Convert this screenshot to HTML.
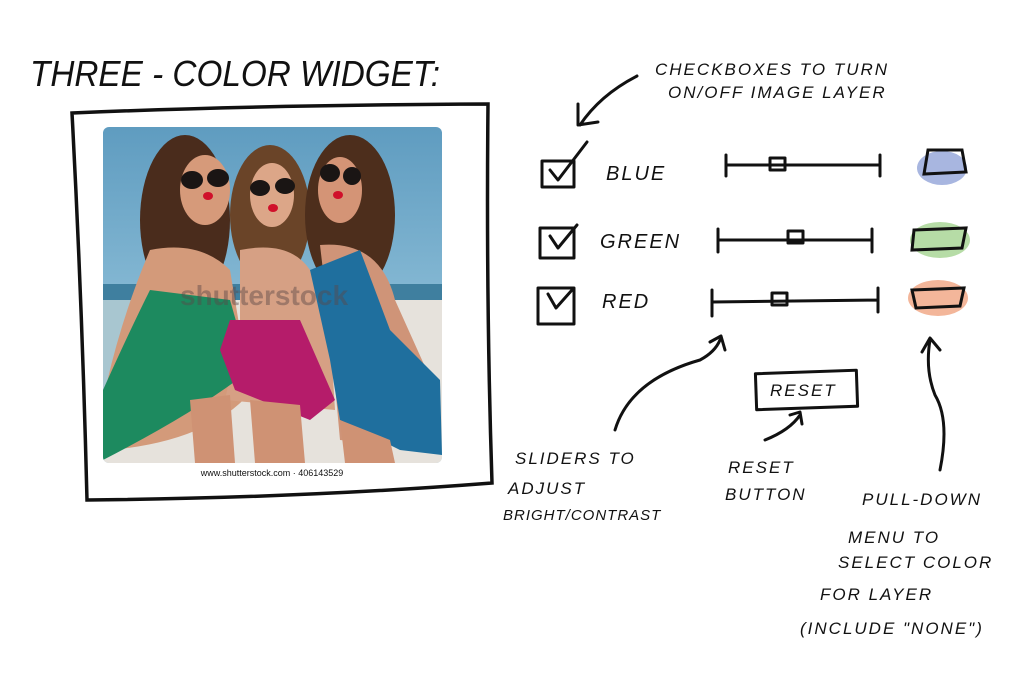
<!DOCTYPE html>
<html><head><meta charset="utf-8"><style>
html,body{margin:0;padding:0;background:#fff;}
svg{display:block;}
text{font-family:"Liberation Sans",sans-serif;fill:#111;}
.h{font-size:17px;letter-spacing:2px;font-style:italic;}
</style></head><body>
<svg width="1032" height="683" viewBox="0 0 1032 683">
<defs>
<linearGradient id="sky" x1="0" y1="0" x2="0" y2="1">
<stop offset="0" stop-color="#5f9cc0"/><stop offset="1" stop-color="#a9d3e6"/></linearGradient>
<clipPath id="ph"><rect x="103" y="127" width="339" height="336" rx="6"/></clipPath>
</defs>
<text x="30" y="86" textLength="410" lengthAdjust="spacingAndGlyphs" style="font-size:36px;font-style:italic">THREE - COLOR WIDGET:</text>
<!-- frame -->
<path d="M72 113 Q260 105 488 104 Q486 300 492 483 Q300 498 87 500 Q82 300 72 113 Z" fill="none" stroke="#111" stroke-width="3.5"/>
<!-- photo -->
<g clip-path="url(#ph)">
<rect x="103" y="127" width="339" height="336" fill="url(#sky)"/>
<rect x="103" y="284" width="339" height="16" fill="#3f7f9f"/>
<rect x="103" y="300" width="339" height="163" fill="#e6e2dc"/>
<rect x="103" y="300" width="60" height="120" fill="#a8c6d0"/>
<ellipse cx="185" cy="220" rx="45" ry="85" fill="#4a2c1c"/>
<ellipse cx="270" cy="215" rx="40" ry="70" fill="#6a4428"/>
<ellipse cx="350" cy="215" rx="45" ry="80" fill="#4d2e1c"/>
<ellipse cx="205" cy="190" rx="25" ry="35" fill="#d69a7a"/>
<ellipse cx="272" cy="195" rx="22" ry="32" fill="#dca688"/>
<ellipse cx="340" cy="190" rx="22" ry="33" fill="#d49476"/>
<g fill="#1a1514"><ellipse cx="192" cy="180" rx="11" ry="9"/><ellipse cx="218" cy="178" rx="11" ry="9"/>
<ellipse cx="260" cy="188" rx="10" ry="8"/><ellipse cx="285" cy="186" rx="10" ry="8"/>
<ellipse cx="330" cy="173" rx="10" ry="9"/><ellipse cx="352" cy="176" rx="9" ry="9"/></g>
<g fill="#d0102a"><ellipse cx="208" cy="196" rx="5" ry="4"/><ellipse cx="273" cy="208" rx="5" ry="4"/><ellipse cx="338" cy="195" rx="5" ry="4"/></g>
<path d="M150 250 Q200 240 230 270 L240 330 L260 380 Q220 440 110 450 L103 400 Q120 320 150 250Z" fill="#d39a7a"/>
<path d="M240 250 Q290 240 310 270 L330 330 L335 410 L225 400 L240 330Z" fill="#d6a084"/>
<path d="M320 245 Q380 240 395 300 L440 400 L440 450 L340 440 L330 330Z" fill="#cf9478"/>
<path d="M150 290 L230 300 L250 370 Q200 410 103 460 L103 390 Q130 330 150 290Z" fill="#1d8a5f"/>
<path d="M230 320 L300 320 L335 400 L310 420 L235 390 L220 350Z" fill="#b51c6a"/>
<path d="M310 270 L360 250 L390 330 L440 380 L442 455 L400 450 L340 420 L330 360Z" fill="#1f6f9e"/>
<path d="M190 400 L230 395 L235 463 L195 463Z M250 400 L300 405 L305 463 L255 463Z M340 420 L390 440 L395 463 L345 463Z" fill="#cf9274"/>
<text x="180" y="305" style="font-size:28px;font-weight:bold;fill:rgba(90,70,70,0.45)">shutterstock</text>
</g>
<text x="272" y="476" text-anchor="middle" style="font-size:9px">www.shutterstock.com · 406143529</text>
<g fill="none" stroke="#111" stroke-width="3" stroke-linecap="round" stroke-linejoin="round">
<path d="M637 76 Q600 95 580 125 M578 104 L578 125 L598 122"/>
<rect x="542" y="161" width="32" height="26"/><path d="M550 170 L558 180 L587 142"/>
<rect x="540" y="228" width="34" height="30"/><path d="M550 236 L558 248 L577 225"/>
<rect x="538" y="288" width="36" height="36"/><path d="M548 294 L556 308 L572 290"/>
<path d="M726 165 L880 165 M726 155 L726 176 M880 155 L880 176"/><rect x="770" y="158" width="15" height="12"/>
<path d="M718 240 L872 240 M718 229 L718 252 M872 229 L872 252"/><rect x="788" y="231" width="15" height="12"/>
<path d="M712 302 L878 300 M712 290 L712 316 M878 288 L878 312"/><rect x="772" y="293" width="15" height="12"/>
<path d="M615 430 Q630 380 700 360 Q715 352 720 340 M710 342 L721 336 L725 350"/>
<path d="M765 440 Q790 430 800 415 M790 415 L800 412 L802 424"/>
<path d="M940 470 Q950 420 935 395 Q925 370 930 340 M922 352 L930 338 L940 350"/>
<rect x="756" y="372" width="101" height="36" transform="rotate(-2 806 390)"/>
</g>
<ellipse cx="942" cy="168" rx="25" ry="17" fill="#a8b6e0"/>
<path d="M928 150 L962 150 L966 172 L924 174Z" fill="none" stroke="#111" stroke-width="3"/>
<ellipse cx="940" cy="240" rx="30" ry="18" fill="#b6dca6"/>
<path d="M914 230 L966 228 L962 248 L912 250Z" fill="none" stroke="#111" stroke-width="3"/>
<ellipse cx="938" cy="298" rx="30" ry="18" fill="#f3b69a"/>
<path d="M912 290 L964 288 L960 306 L916 308Z" fill="none" stroke="#111" stroke-width="3"/>
<text class="h" x="655" y="75">CHECKBOXES TO TURN</text>
<text class="h" x="668" y="98">ON/OFF IMAGE LAYER</text>
<text class="h" x="606" y="180" style="font-size:20px">BLUE</text>
<text class="h" x="600" y="248" style="font-size:20px">GREEN</text>
<text class="h" x="602" y="308" style="font-size:20px">RED</text>
<text class="h" x="770" y="396">RESET</text>
<text class="h" x="515" y="464">SLIDERS TO</text>
<text class="h" x="508" y="494">ADJUST</text>
<text class="h" x="503" y="520" style="font-size:15px;letter-spacing:1px">BRIGHT/CONTRAST</text>
<text class="h" x="728" y="473">RESET</text>
<text class="h" x="725" y="500">BUTTON</text>
<text class="h" x="862" y="505">PULL-DOWN</text>
<text class="h" x="848" y="543">MENU TO</text>
<text class="h" x="838" y="568">SELECT COLOR</text>
<text class="h" x="820" y="600">FOR LAYER</text>
<text class="h" x="800" y="634">(INCLUDE "NONE")</text>
</svg>
</body></html>
